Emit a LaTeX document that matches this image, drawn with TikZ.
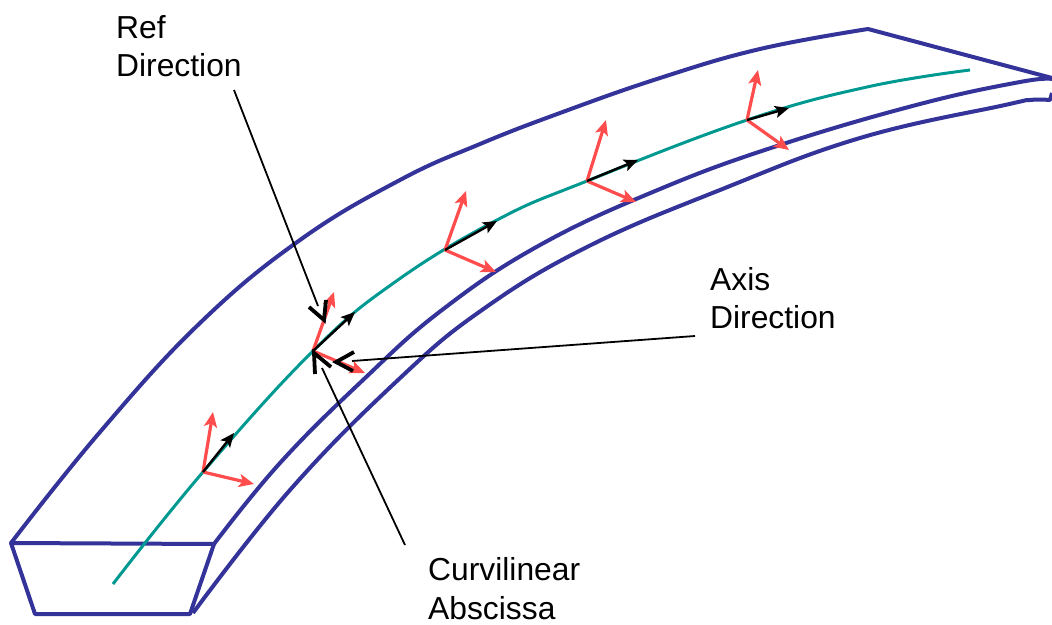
\documentclass[tikz,border=0pt]{standalone}
\usepackage{fontspec}
\setmainfont{Liberation Sans}
\usetikzlibrary{arrows.meta}
\definecolor{beamblue}{RGB}{51,51,153}
\definecolor{curveteal}{RGB}{0,153,145}
\definecolor{framered}{RGB}{255,77,77}
\tikzset{
  blueline/.style={draw=beamblue,line width=4pt,line join=round},
  tealline/.style={draw=curveteal,line width=3pt},
  redarrow/.style={draw=framered,line width=3.2pt,-{Stealth[length=15pt,width=13pt,inset=3.5pt]}},
  blackarrow/.style={draw=black,line width=2.4pt,-{Stealth[length=14pt,width=12pt,inset=3pt]}},
  leader/.style={draw=black,line width=1.8pt},
  barb/.style={draw=black,line width=3.8pt,line join=miter},
  lbl/.style={font=\fontsize{31.8}{38.5}\selectfont,align=left,inner sep=0pt,anchor=north west}
}
\begin{document}
\begin{tikzpicture}[x=1pt,y=-1pt]
\useasboundingbox (0,0) rectangle (1052,624);
% beam
\draw[blueline] plot[smooth,tension=0.7] coordinates {(11,543) (100,432) (200,323) (300,240) (400,180) (480,144) (560,113) (660,78) (760,49) (868,29)} -- (1052,78);
\draw[blueline] (11,543) -- (214,544) -- (190,614) -- (35,614) -- cycle;
\draw[blueline] plot[smooth,tension=0.7] coordinates {(214,544) (280,463) (363,380) (442,310) (540,245) (660,189) (780,145) (920,104) (1020,82) (1052,79)};
\draw[blueline] plot[smooth,tension=0.7] coordinates {(193,613) (290,490) (398,380) (482,310) (587,247) (720,190) (860,138) (1005,105) (1030,100) (1050,100)} -- (1052,93);
% curve
\draw[tealline] plot[smooth,tension=0.7] coordinates {(113,584) (203,472) (313,351) (395,282) (497,220) (587,181) (747,120) (867,87) (970,70)};
% frames
\coordinate (o1) at (203,472); \coordinate (o2) at (313,351); \coordinate (o3) at (445,250); \coordinate (o4) at (587,181); \coordinate (o5) at (747,120);
\coordinate (u1) at (213,412); \coordinate (v1) at (254,484); \coordinate (w1) at (234,433);
\coordinate (u2) at (334,292); \coordinate (v2) at (365,373); \coordinate (w2) at (355,312);
\coordinate (u3) at (466,191); \coordinate (v3) at (496,272); \coordinate (w3) at (497,221);
\coordinate (u4) at (606,120); \coordinate (v4) at (636,202); \coordinate (w4) at (638,160);
\coordinate (u5) at (758,70); \coordinate (v5) at (789,150); \coordinate (w5) at (789,108);
\foreach \i in {1,...,5}{
  \draw[redarrow] (o\i) -- (u\i);
  \draw[redarrow] (o\i) -- (v\i);
  \draw[blackarrow] (o\i) -- (w\i);
}
% labels
\node[lbl] (ref) at (116,15) {Ref\\Direction};
\node[lbl] (axis) at (710,267) {Axis\\Direction};
\node[lbl] (curv) at (428,557.5) {Curvilinear\\Abscissa};
% leaders
\coordinate (a1s) at (234,90);  \coordinate (a1e) at (318,306);
\coordinate (a2s) at (695,336); \coordinate (a2e) at (352,361);
\coordinate (a3s) at (405,545); \coordinate (a3e) at (322,368);
\draw[leader] (a1s) -- (a1e);
\draw[leader] (a2s) -- (a2e);
\draw[leader] (a3s) -- (a3e);
% open arrowheads
\coordinate (b1a) at (309,307); \coordinate (b1t) at (324,320); \coordinate (b1b) at (326,300);
\coordinate (b2a) at (354,352); \coordinate (b2t) at (336,362); \coordinate (b2b) at (353,371);
\coordinate (b3a) at (315,374); \coordinate (b3t) at (314,353); \coordinate (b3b) at (331,367);
\draw[barb] (b1a) -- (b1t) -- (b1b);
\draw[barb] (b2a) -- (b2t) -- (b2b);
\draw[barb] (b3a) -- (b3t) -- (b3b);
\end{tikzpicture}
\end{document}
